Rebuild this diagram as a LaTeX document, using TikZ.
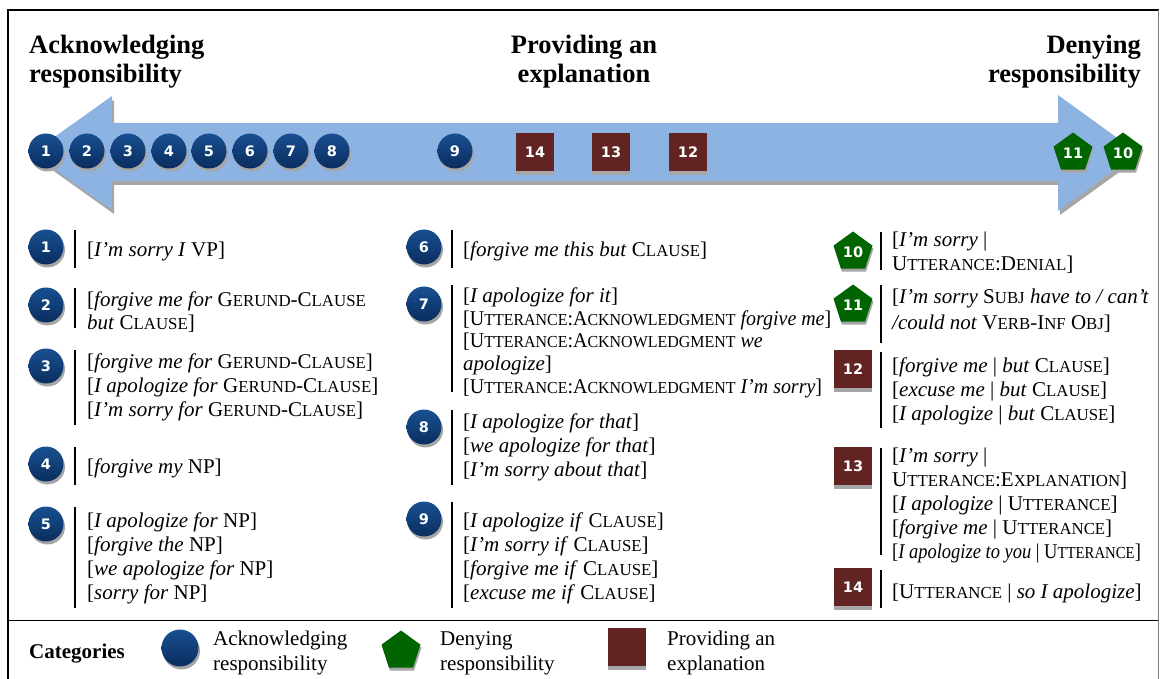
\documentclass[tikz,border=0pt]{standalone}
\usepackage{fontspec}
\setmainfont{Liberation Serif}
\newfontfamily\numfont{DejaVu Sans}
\usepackage{graphicx}
\usetikzlibrary{shapes.geometric,shadows}

\definecolor{arrowblue}{RGB}{141,179,226}
\definecolor{shadowgray}{RGB}{166,166,166}
\definecolor{navytop}{RGB}{24,80,145}
\definecolor{navybot}{RGB}{10,45,95}
\definecolor{darkgreen}{RGB}{0,100,0}
\definecolor{maroonbox}{RGB}{98,36,35}

% simulated small capitals
\newcommand\sk[1]{{\fontsize{16.8pt}{16.8pt}\selectfont #1}}
% stacked lines, baseline on the first one
\newcommand\rows[1]{\begin{tabular}[t]{@{}l@{}}#1\end{tabular}}
% line break that does not swallow a following bracket
\newcommand\nl{\\\relax}
% slightly condensed line
\newcommand\tight[1]{\scalebox{0.95}[1]{#1}}

\tikzset{
  mk/.style={inner sep=0pt, text=white, font={\numfont\bfseries\fontsize{14.5pt}{14.5pt}\selectfont}},
  ack/.style={mk, circle, minimum size=35pt, top color=navytop, bottom color=navybot,
    drop shadow={shadow xshift=1.5pt, shadow yshift=-3pt, fill=shadowgray, opacity=1}},
  den/.style={mk, regular polygon, regular polygon sides=5, minimum size=41pt, fill=darkgreen,
    drop shadow={shadow xshift=1pt, shadow yshift=-3pt, fill=shadowgray, opacity=1}},
  expl/.style={mk, rectangle, minimum size=38pt, fill=maroonbox,
    drop shadow={shadow xshift=0pt, shadow yshift=-4pt, fill=shadowgray, opacity=1}},
  txt/.style={anchor=base west, inner sep=0pt, font=\fontsize{21pt}{24pt}\selectfont},
  bar/.style={line width=1.6pt, black},
  head/.style={inner sep=0pt, font=\bfseries\fontsize{26.5pt}{29pt}\selectfont},
}

\begin{document}
\begin{tikzpicture}[x=1pt,y=-1pt]
\useasboundingbox (0,0) rectangle (1160,679);

% frame
\draw[line width=2pt] (8,679) -- (8,10) -- (1159,10);
\draw[line width=0.8pt, gray] (1158,10) -- (1158,679);
\draw[line width=1.5pt] (8,620.5) -- (1158,620.5);

% headings
\node[head, anchor=base west] (hleft) at (29,54)
  {\begin{tabular}[t]{@{}l@{}}Acknowledging\\responsibility\end{tabular}};
\node[head, anchor=base] (hmid) at (584,54)
  {\begin{tabular}[t]{@{}c@{}}Providing an\\explanation\end{tabular}};
\node[head, anchor=base east] (hright) at (1141,54)
  {\begin{tabular}[t]{@{}r@{}}Denying\\responsibility\end{tabular}};

% double-headed scale arrow with its shadow
\fill[shadowgray, shift={(2,4)}] (32,153) -- (112,96) -- (112,123) -- (1058,123) -- (1058,95)
  -- (1138,153) -- (1058,211) -- (1058,181) -- (112,181) -- (112,210) -- cycle;
\fill[arrowblue] (32,153) -- (112,96) -- (112,123) -- (1058,123) -- (1058,95)
  -- (1138,153) -- (1058,211) -- (1058,181) -- (112,181) -- (112,210) -- cycle;

% markers along the scale
\node[ack] (t1) at (46,151) {1};
\node[ack] (t2) at (87,151) {2};
\node[ack] (t3) at (128,151) {3};
\node[ack] (t4) at (169,151) {4};
\node[ack] (t5) at (209,151) {5};
\node[ack] (t6) at (250,151) {6};
\node[ack] (t7) at (291,151) {7};
\node[ack] (t8) at (332,151) {8};
\node[ack] (t9) at (455,151) {9};
\node[expl] (t14) at (535,152) {14};
\node[expl] (t13) at (611,152) {13};
\node[expl] (t12) at (688,152) {12};
\node[den] (t11) at (1073,153) {11};
\node[den] (t10) at (1123,153) {10};

% ---- first column
\node[ack] (m1) at (46,247) {1};
\draw[bar] (75,230) -- (75,268);
\node[txt] (x1) at (87,257) {[\textit{I’m sorry I} VP]};

\node[ack] (m2) at (46,305) {2};
\draw[bar] (75,288) -- (75,328);
\node[txt] (x2) at (87,306) {\rows{[\textit{forgive me for} G\sk{ERUND}-C\sk{LAUSE}\nl
  \textit{but} C\sk{LAUSE}]}};

\node[ack] (m3) at (46,366) {3};
\draw[bar] (75,350) -- (75,425);
\node[txt] (x3) at (87,368) {\rows{[\textit{forgive me for} G\sk{ERUND}-C\sk{LAUSE}]\nl
  [\textit{I apologize for} G\sk{ERUND}-C\sk{LAUSE}]\nl
  [\textit{I'm sorry for} G\sk{ERUND}-C\sk{LAUSE}]}};

\node[ack] (m4) at (46,464) {4};
\draw[bar] (75,447) -- (75,485);
\node[txt] (x4) at (87,473) {[\textit{forgive my} NP]};

\node[ack] (m5) at (46,524) {5};
\draw[bar] (75,507) -- (75,608);
\node[txt] (x5) at (87,527) {\rows{[\textit{I apologize for} NP]\nl
  [\textit{forgive the} NP]\nl
  [\textit{we apologize for} NP]\nl
  [\textit{sorry for} NP]}};

% ---- second column
\node[ack] (m6) at (424,247) {6};
\draw[bar] (452,230) -- (452,268);
\node[txt] (x6) at (463,257) {[\textit{forgive me this but} C\sk{LAUSE}]};

\node[ack] (m7) at (424,304) {7};
\draw[bar] (452,285) -- (452,392);
\node[txt, font=\fontsize{21pt}{23pt}\selectfont] (x7) at (463,302) {\rows{[\textit{I apologize for it}]\nl
  \tight{[U\sk{TTERANCE}:A\sk{CKNOWLEDGMENT} \textit{forgive me}]}\nl
  \tight{[U\sk{TTERANCE}:A\sk{CKNOWLEDGMENT} \textit{we}}\nl
  \textit{apologize}]\nl
  \tight{[U\sk{TTERANCE}:A\sk{CKNOWLEDGMENT} \textit{I'm sorry}]}}};

\node[ack] (m8) at (424,427) {8};
\draw[bar] (452,410) -- (452,485);
\node[txt] (x8) at (463,428) {\rows{[\textit{I apologize for that}]\nl
  [\textit{we apologize for that}]\nl
  [\textit{I’m sorry about that}]}};

\node[ack] (m9) at (424,519) {9};
\draw[bar] (452,502) -- (452,608);
\node[txt] (x9) at (463,527) {\rows{[\textit{I apologize if} C\sk{LAUSE}]\nl
  [\textit{I’m sorry if} C\sk{LAUSE}]\nl
  [\textit{forgive me if} C\sk{LAUSE}]\nl
  [\textit{excuse me if} C\sk{LAUSE}]}};

% ---- third column
\node[den] (m10) at (853,252) {10};
\draw[bar] (881,232) -- (881,270);
\node[txt] (x10) at (892,247) {\rows{[\textit{I’m sorry} |\nl
  U\sk{TTERANCE}:D\sk{ENIAL}]}};

\node[den] (m11) at (853,305) {11};
\draw[bar] (881,285) -- (881,343);
\node[txt, font=\fontsize{21pt}{25pt}\selectfont] (x11) at (892,304) {\rows{[\textit{I'm sorry} S\sk{UBJ} \textit{have to / can’t}\nl
  \textit{/could not} V\sk{ERB}-I\sk{NF} O\sk{BJ}]}};

\node[expl] (m12) at (853,369) {12};
\draw[bar] (881,352) -- (881,428);
\node[txt] (x12) at (892,372) {\rows{[\textit{forgive me} | \textit{but} C\sk{LAUSE}]\nl
  [\textit{excuse me} | \textit{but} C\sk{LAUSE}]\nl
  [\textit{I apologize} | \textit{but} C\sk{LAUSE}]}};

\node[expl] (m13) at (853,466) {13};
\draw[bar] (881,448) -- (881,555);
\node[txt] (x13) at (892,462) {\rows{[\textit{I'm sorry} |\nl
  U\sk{TTERANCE}:E\sk{XPLANATION}]\nl
  [\textit{I apologize} | U\sk{TTERANCE}]\nl
  [\textit{forgive me} | U\sk{TTERANCE}]\nl
  \scalebox{0.88}[1]{[\textit{I apologize to you} | U\sk{TTERANCE}]}}};

\node[expl] (m14) at (853,587) {14};
\draw[bar] (881,570) -- (881,608);
\node[txt] (x14) at (892,598) {[U\sk{TTERANCE} | \textit{so I apologize}]};

% ---- legend
\node[anchor=base west, inner sep=0pt, font=\bfseries\fontsize{21pt}{24pt}\selectfont] (cat) at (29,658) {Categories};
\node[ack, minimum size=37pt] (l1) at (180,648) {};
\node[txt, font=\fontsize{21pt}{25pt}\selectfont] (l1t) at (213,645) {\rows{Acknowledging\nl responsibility}};
\node[den] (l2) at (401,651) {};
\node[txt, font=\fontsize{21pt}{25pt}\selectfont] (l2t) at (440,645) {\rows{Denying\nl responsibility}};
\node[expl] (l3) at (627,647) {};
\node[txt, font=\fontsize{21pt}{25pt}\selectfont] (l3t) at (667,645) {\rows{Providing an\nl explanation}};
\end{tikzpicture}
\end{document}
